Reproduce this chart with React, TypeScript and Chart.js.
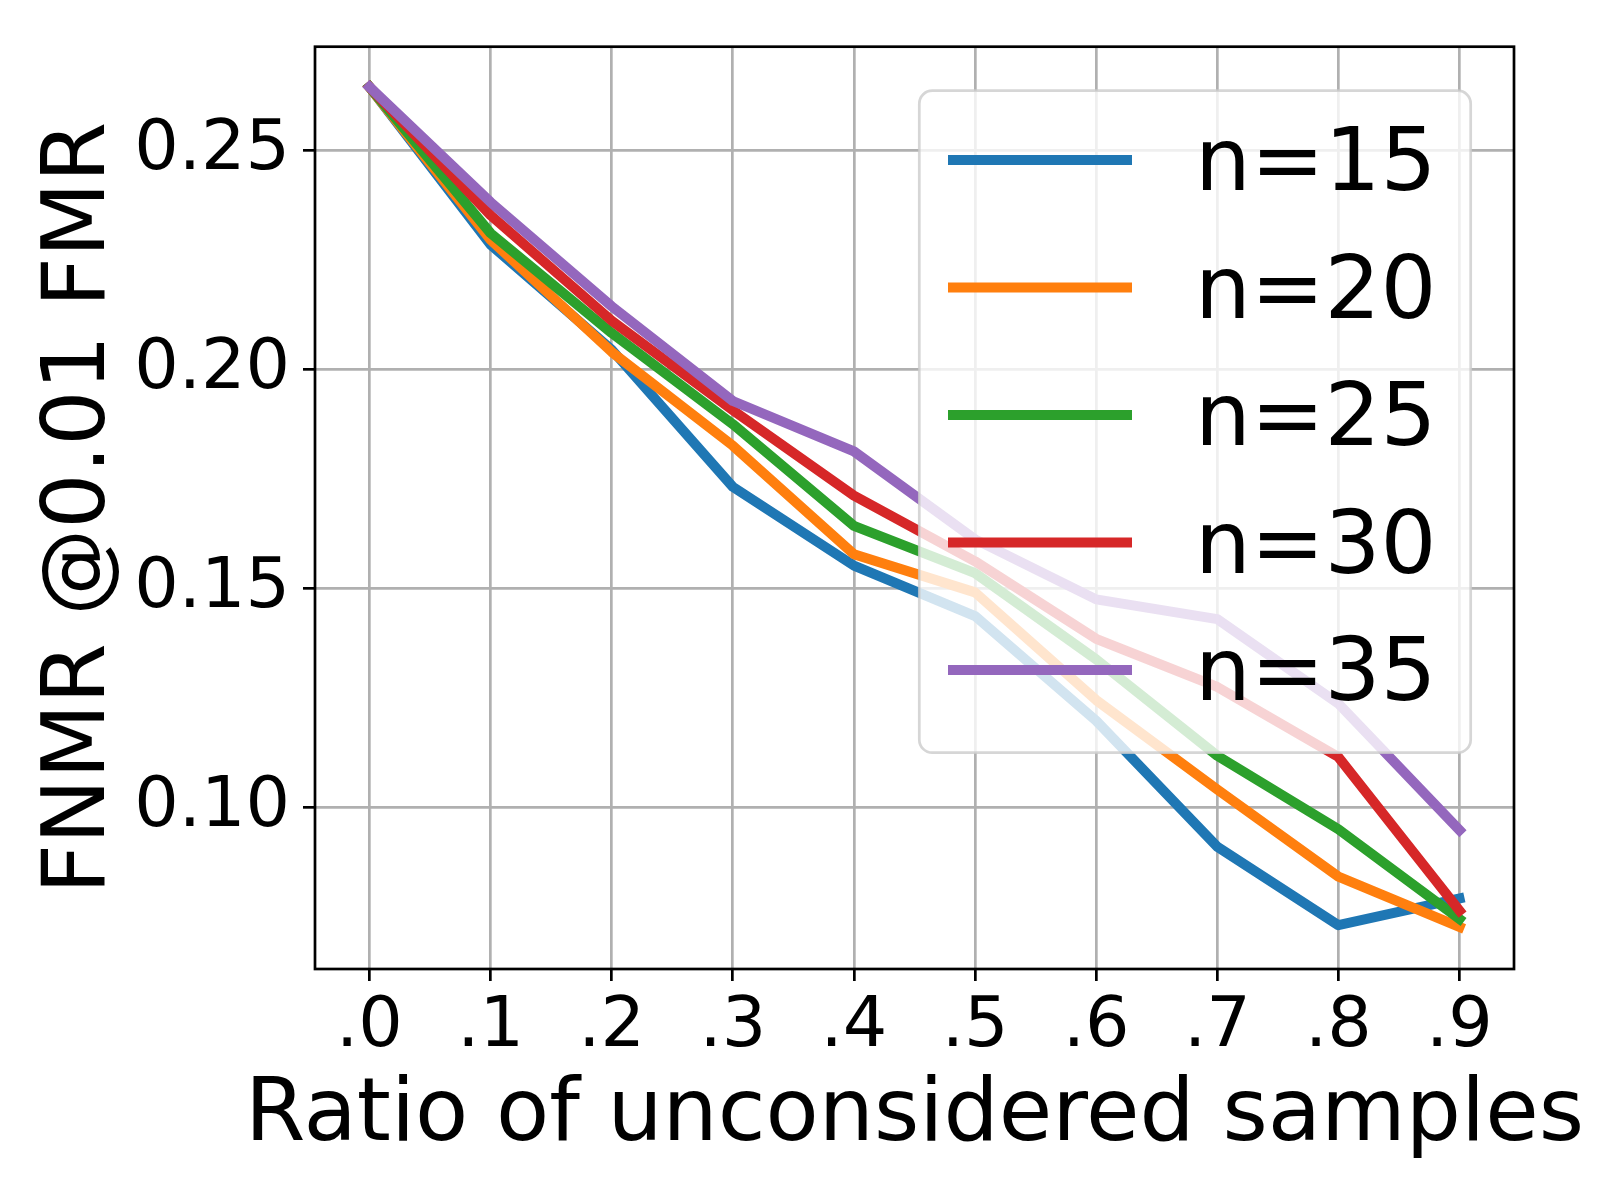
import React, { useEffect, useRef } from "react";
import { Chart, registerables } from "chart.js";

Chart.register(...registerables);

// ---- data ----
const ratios = [0, 0.1, 0.2, 0.3, 0.4, 0.5, 0.6, 0.7, 0.8, 0.9];
const xTickLabels = [".0", ".1", ".2", ".3", ".4", ".5", ".6", ".7", ".8", ".9"];
const yTickValues = [0.1, 0.15, 0.2, 0.25];
const seriesLabels = ["n=15", "n=20", "n=25", "n=30", "n=35"];
const seriesColors = ["#1f77b4", "#ff7f0e", "#2ca02c", "#d62728", "#9467bd"];

const n15 = [0.2645, 0.2285, 0.2045, 0.1732, 0.1552, 0.1437, 0.1198, 0.091, 0.0731, 0.0792];
const n20 = [0.2645, 0.2296, 0.204, 0.1826, 0.1578, 0.1491, 0.1245, 0.1041, 0.0842, 0.0727];
const n25 = [0.2645, 0.2311, 0.2083, 0.1875, 0.1643, 0.1535, 0.1338, 0.1118, 0.095, 0.0745];
const n30 = [0.2645, 0.2352, 0.2111, 0.1907, 0.1712, 0.1562, 0.1385, 0.1275, 0.1115, 0.0764];
const n35 = [0.2645, 0.2382, 0.2144, 0.1928, 0.1813, 0.1612, 0.1475, 0.143, 0.1237, 0.0948];

const seriesValues = [n15, n20, n25, n30, n35];

const xTitle = "Ratio of unconsidered samples";
const yTitle = "FNMR @0.01 FMR";

const FONT = "'DejaVu Sans', sans-serif";

const framePlugin = {
  id: "frame",
  afterDatasetsDraw(chart: any) {
    const { ctx, chartArea } = chart;
    ctx.save();
    ctx.strokeStyle = "#000";
    ctx.lineWidth = 2.7;
    ctx.strokeRect(
      chartArea.left,
      chartArea.top,
      chartArea.right - chartArea.left,
      chartArea.bottom - chartArea.top
    );
    ctx.restore();
  },
};

const titlesPlugin = {
  id: "axisTitles",
  afterDraw(chart: any) {
    const { ctx, chartArea } = chart;
    ctx.save();
    ctx.fillStyle = "#000";
    ctx.font = `87px ${FONT}`;
    ctx.textAlign = "center";
    ctx.textBaseline = "alphabetic";
    ctx.fillText(xTitle, (chartArea.left + chartArea.right) / 2, 1140);
    ctx.translate(104, (chartArea.top + chartArea.bottom) / 2);
    ctx.rotate(-Math.PI / 2);
    ctx.fillText(yTitle, 0, 0);
    ctx.restore();
  },
};

const legendPlugin = {
  id: "boxLegend",
  afterDraw(chart: any) {
    const { ctx } = chart;
    const ds = chart.data.datasets;
    const bx = 919.3, by = 90.7, bw = 551.4, bh = 662;
    const r = 13;
    ctx.save();
    ctx.beginPath();
    ctx.moveTo(bx + r, by);
    ctx.lineTo(bx + bw - r, by);
    ctx.arcTo(bx + bw, by, bx + bw, by + r, r);
    ctx.lineTo(bx + bw, by + bh - r);
    ctx.arcTo(bx + bw, by + bh, bx + bw - r, by + bh, r);
    ctx.lineTo(bx + r, by + bh);
    ctx.arcTo(bx, by + bh, bx, by + bh - r, r);
    ctx.lineTo(bx, by + r);
    ctx.arcTo(bx, by, bx + r, by, r);
    ctx.closePath();
    ctx.fillStyle = "rgba(255,255,255,0.8)";
    ctx.fill();
    ctx.lineWidth = 2.7;
    ctx.strokeStyle = "rgba(204,204,204,0.8)";
    ctx.stroke();

    const rowH = 127.5;
    ctx.font = `88px ${FONT}`;
    ctx.textBaseline = "alphabetic";
    ctx.textAlign = "left";
    ds.forEach((d: any, i: number) => {
      const cy = 160 + i * rowH;
      ctx.beginPath();
      ctx.moveTo(948, cy);
      ctx.lineTo(1132, cy);
      ctx.strokeStyle = d.borderColor;
      ctx.lineWidth = 10;
      ctx.lineCap = "butt";
      ctx.stroke();
      ctx.fillStyle = "#000";
      ctx.fillText(d.label, 1195, 190 + i * rowH);
    });
    ctx.restore();
  },
};

export default function App() {
  const canvasRef = useRef<HTMLCanvasElement | null>(null);

  useEffect(() => {
    if (!canvasRef.current) return;
    const chart = new Chart(canvasRef.current, {
      type: "line",
      data: {
        datasets: seriesValues.map((vals, i) => ({
          label: seriesLabels[i],
          data: vals.map((v, j) => ({ x: ratios[j], y: v })),
          borderColor: seriesColors[i],
          backgroundColor: seriesColors[i],
          borderWidth: 10,
          pointRadius: 0,
          pointHoverRadius: 0,
          tension: 0,
          fill: false,
          borderJoinStyle: "round" as const,
          borderCapStyle: "square" as const,
          order: seriesValues.length - i,
        })),
      },
      options: {
        responsive: false,
        animation: false,
        events: [],
        layout: { padding: { left: 0, top: 46.7, right: 86, bottom: 0 } },
        plugins: {
          legend: { display: false },
          tooltip: { enabled: false },
          title: { display: false },
        },
        scales: {
          x: {
            type: "linear",
            position: "bottom",
            min: -0.045,
            max: 0.945,
            afterBuildTicks: (scale: any) => {
              scale.ticks = ratios.map((v) => ({ value: v }));
            },
            afterFit: (scale: any) => {
              scale.height = 231;
              scale.paddingLeft = 0;
              scale.paddingRight = 0;
              scale.paddingTop = 0;
              scale.paddingBottom = 0;
            },
            ticks: {
              autoSkip: false,
              maxRotation: 0,
              minRotation: 0,
              padding: 5,
              color: "#000",
              font: { family: FONT, size: 70 },
              callback: (_v: any, idx: number) => xTickLabels[idx],
            },
            grid: {
              color: "#b0b0b0",
              lineWidth: 2.7,
              drawTicks: true,
              tickLength: 12,
              tickColor: "#000",
              tickWidth: 2.7,
            },
            border: { display: false },
            title: { display: false },
          },
          y: {
            type: "linear",
            position: "left",
            min: 0.0631,
            max: 0.2737,
            afterBuildTicks: (scale: any) => {
              scale.ticks = yTickValues.map((v) => ({ value: v }));
            },
            afterFit: (scale: any) => {
              scale.width = 315;
              scale.paddingLeft = 0;
              scale.paddingRight = 0;
              scale.paddingTop = 0;
              scale.paddingBottom = 0;
            },
            ticks: {
              padding: 13,
              color: "#000",
              font: { family: FONT, size: 70 },
              callback: (v: any) => Number(v).toFixed(2),
            },
            grid: {
              color: "#b0b0b0",
              lineWidth: 2.7,
              drawTicks: true,
              tickLength: 12,
              tickColor: "#000",
              tickWidth: 2.7,
            },
            border: { display: false },
            title: { display: false },
          },
        },
      },
      plugins: [framePlugin, legendPlugin, titlesPlugin],
    });
    return () => chart.destroy();
  }, []);

  return (
    <div style={{ position: "absolute", left: 0, top: 0, width: 1600, height: 1200, background: "#fff" }}>
      <canvas ref={canvasRef} width={1600} height={1200} style={{ display: "block", width: 1600, height: 1200 }} />
    </div>
  );
}
